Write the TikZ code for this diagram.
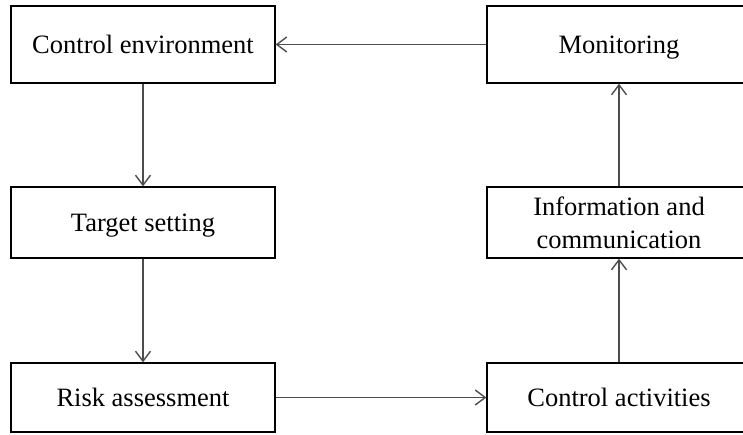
\documentclass[tikz,border=0pt]{standalone}
\usepackage{fontspec}
\setmainfont{Liberation Serif}
\usetikzlibrary{arrows.meta}
\tikzset{
  box/.style={draw=black, line width=1.3pt, minimum width=264pt, minimum height=72pt, inner sep=0pt, align=center, font=\fontsize{26.5}{33}\selectfont},
  one/.style={text height=18pt, text depth=0pt},
  conn/.style={draw=black!70, line width=1.4pt, -{Straight Barb[length=10pt,width=15pt]}}
}
\begin{document}
\begin{tikzpicture}[x=1pt,y=-1pt]
\useasboundingbox (0,0) rectangle (743,434);
\node[box, one, minimum height=77pt] (ce) at (143,44.5) {Control environment};
\node[box, one, minimum height=77pt] (mon) at (619,44.5) {Monitoring};
\node[box, one, minimum height=71pt] (ts) at (143,222.5) {Target setting};
\node[box, minimum height=71pt] (ic) at (619,222.5) {Information and\\communication};
\node[box, one, minimum height=69pt] (ra) at (143,397.5) {Risk assessment};
\node[box, one, minimum height=69pt] (ca) at (619,397.5) {Control activities};
\draw[conn] (ce) -- (ts);
\draw[conn] (ts) -- (ra);
\draw[conn] (ra) -- (ca);
\draw[conn] (ca) -- (ic);
\draw[conn] (ic) -- (mon);
\draw[conn] (mon) -- (ce);
\end{tikzpicture}
\end{document}
